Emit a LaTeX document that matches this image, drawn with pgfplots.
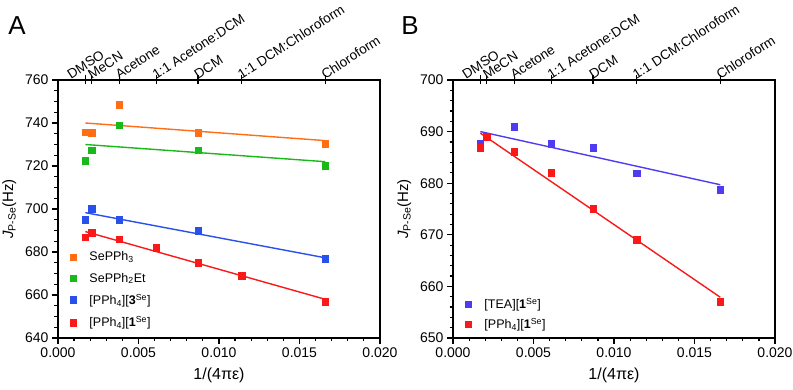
\documentclass[border=0pt]{standalone}
\usepackage{pgfplots}
\pgfplotsset{compat=1.18}
\usepackage{fontspec}
\setmainfont{Liberation Sans}
\definecolor{corange}{RGB}{255,110,20}
\definecolor{cgreen}{RGB}{25,185,25}
\definecolor{cblueA}{RGB}{40,80,235}
\definecolor{cblueB}{RGB}{80,60,240}
\definecolor{cred}{RGB}{250,25,25}
\pgfplotsset{
  mainax/.style={
    scale only axis, width=322pt, height=258pt,
    xmin=0, xmax=0.02,
    xtick={0,0.005,0.01,0.015,0.02}, minor x tick num=4,
    scaled x ticks=false,
    xticklabel style={/pgf/number format/.cd, fixed, fixed zerofill, precision=3},
    /pgf/number format/assume math mode=true,
    tick label style={font=\fontsize{14}{16}\selectfont},
    xlabel style={font=\fontsize{16}{18}\selectfont, yshift=-4pt},
    ylabel style={font=\fontsize{15}{17}\selectfont, yshift=2pt},
    axis line style={line width=1.5pt},
    xtick pos=bottom, ytick pos=left, tick align=outside,
    major tick length=6pt, minor tick length=3.5pt,
    every tick/.style={black, line width=1.2pt},
    xlabel={1/(4πε)},
    ylabel={\textit{J}\textsubscript{P-Se}(Hz)},
    legend cell align=left,
    legend style={draw=none, fill=none, font=\fontsize{12.5}{14}\selectfont, row sep=6.5pt},
  },
  topax/.style={
    scale only axis, width=322pt, height=258pt,
    xmin=0, xmax=0.02, ymin=0, ymax=1,
    axis x line=top, axis y line=none,
    x axis line style={-, line width=1.5pt},
    xtick={0.0017,0.0021,0.0038,0.0061,0.0087,0.0114,0.0166},
    xticklabels={\hspace*{-12pt}\raisebox{8pt}{DMSO},MeCN,Acetone,1:1 Acetone:DCM,DCM,1:1 DCM:Chloroform,Chloroform},
    xticklabel style={rotate=33, anchor=south west, font=\fontsize{13.5}{16}\selectfont, inner sep=0.5pt},
    xticklabel shift=-5pt,
    tick align=center, major tick length=9pt,
    every tick/.style={black, line width=1.2pt},
  },
  dots/.style={only marks, mark=square*, mark size=3.3pt},
  fit/.style={no marks, line width=1.4pt, forget plot},
}
\begin{document}
\begin{tikzpicture}
\useasboundingbox (0,0) rectangle (793pt,390pt);
\node[font=\fontsize{26}{28}\selectfont] at (17pt,364pt) {A};
\node[font=\fontsize{26}{28}\selectfont] at (410pt,364pt) {B};
% Panel A
\begin{axis}[mainax, at={(58pt,52pt)}, anchor=south west,
  ymin=640, ymax=760, ytick={640,660,680,700,720,740,760}, minor y tick num=3,
  legend style={at={(0.027,0.35)}, anchor=north west}]
\addplot[dots, color=corange] coordinates {(0.0017,735.7)(0.0021,735.5)(0.0038,748.5)(0.0087,735.5)(0.0166,730.5)};
\addlegendentry{\hspace*{11pt}SePPh\textsubscript{3}}
\addplot[dots, color=cgreen] coordinates {(0.0017,722.5)(0.0021,727.3)(0.0038,739)(0.0087,727.3)(0.0166,720)};
\addlegendentry{\hspace*{11pt}SePPh\textsubscript{2}Et}
\addplot[dots, color=cblueA] coordinates {(0.0017,695)(0.0021,700)(0.0038,695)(0.0087,690)(0.0166,677)};
\addlegendentry{\hspace*{11pt}[PPh\textsubscript{4}][\textbf{3}\textsuperscript{Se}]}
\addplot[dots, color=cred] coordinates {(0.0017,686.8)(0.0021,689)(0.0038,686)(0.0061,682)(0.0087,675)(0.0114,669)(0.0166,657)};
\addlegendentry{\hspace*{11pt}[PPh\textsubscript{4}][\textbf{1}\textsuperscript{Se}]}
\addplot[fit, color=corange] coordinates {(0.0017,740.0)(0.0166,731.8)};
\addplot[fit, color=cgreen] coordinates {(0.0017,730.0)(0.0166,722.0)};
\addplot[fit, color=cblueA] coordinates {(0.0017,698.3)(0.0166,677.3)};
\addplot[fit, color=cred] coordinates {(0.0017,689.5)(0.0166,658.0)};
\end{axis}
\begin{axis}[topax, at={(58pt,52pt)}, anchor=south west]
\end{axis}
% Panel B
\begin{axis}[mainax, at={(453pt,52pt)}, anchor=south west,
  ymin=650, ymax=700, ytick={650,660,670,680,690,700}, minor y tick num=4,
  legend style={at={(0.027,0.17)}, anchor=north west, row sep=4pt}]
\addplot[dots, color=cblueB] coordinates {(0.0017,687.6)(0.0021,689.1)(0.0038,690.9)(0.0061,687.6)(0.0087,686.9)(0.0114,681.9)(0.0166,678.7)};
\addlegendentry{\hspace*{11pt}[TEA][\textbf{1}\textsuperscript{Se}]}
\addplot[dots, color=cred] coordinates {(0.0017,686.9)(0.0021,689)(0.0038,686.1)(0.0061,682)(0.0087,675)(0.0114,669.1)(0.0166,657)};
\addlegendentry{\hspace*{11pt}[PPh\textsubscript{4}][\textbf{1}\textsuperscript{Se}]}
\addplot[fit, color=cblueB] coordinates {(0.0017,690.0)(0.0166,679.7)};
\addplot[fit, color=cred] coordinates {(0.0017,689.7)(0.0166,657.9)};
\end{axis}
\begin{axis}[topax, at={(453pt,52pt)}, anchor=south west]
\end{axis}
\end{tikzpicture}
\end{document}
